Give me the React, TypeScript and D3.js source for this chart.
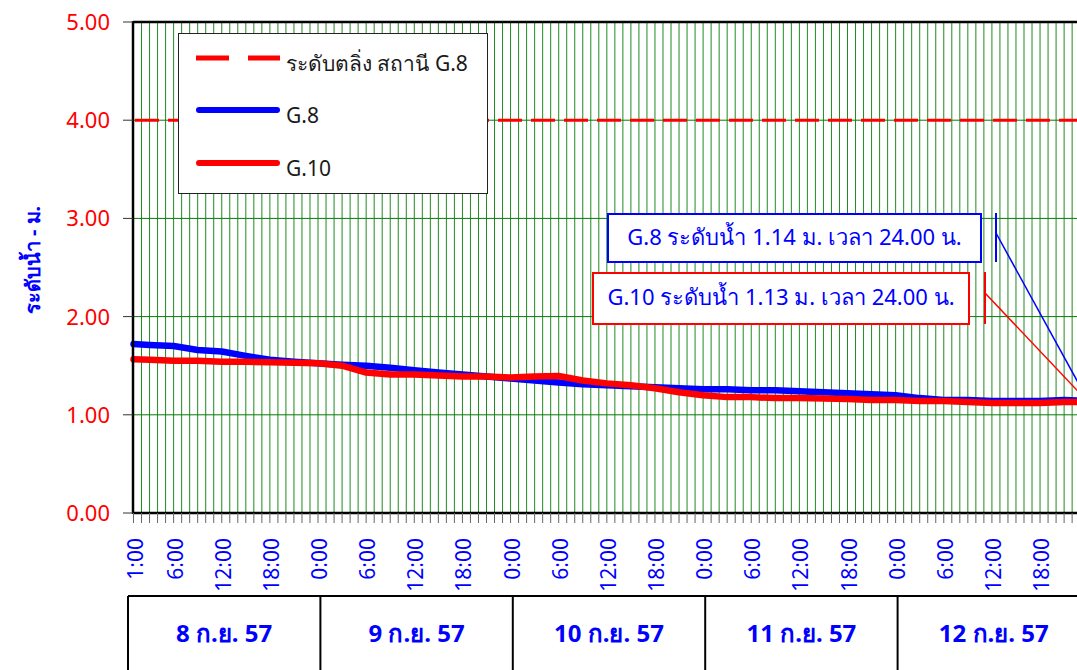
import * as d3 from "d3";

const W = 1077;
const H = 670;
const FONT = "Tahoma, 'Noto Sans', 'DejaVu Sans', sans-serif";

// hours counted from 8 ก.ย. 57 0:00
const hours = [
  1, 3, 6, 9, 12, 15, 18, 21, 24, 27, 30, 33, 36, 39, 42, 45, 48, 51, 54, 57,
  60, 63, 66, 69, 72, 75, 78, 81, 84, 87, 90, 93, 96, 99, 102, 105, 108, 111,
  114, 117, 120,
];

const g8 = [
  1.72, 1.71, 1.7, 1.66, 1.645, 1.6, 1.56, 1.54, 1.525, 1.51, 1.5, 1.48,
  1.455, 1.43, 1.41, 1.39, 1.37, 1.35, 1.33, 1.31, 1.3, 1.29, 1.28, 1.27,
  1.26, 1.26, 1.25, 1.25, 1.24, 1.23, 1.22, 1.21, 1.2, 1.17, 1.15, 1.15, 1.14,
  1.14, 1.14, 1.15, 1.14,
];

const g10 = [
  1.565, 1.56, 1.55, 1.55, 1.54, 1.54, 1.535, 1.53, 1.525, 1.5, 1.43, 1.41,
  1.41, 1.4, 1.39, 1.39, 1.38, 1.39, 1.395, 1.35, 1.32, 1.3, 1.27, 1.23, 1.2,
  1.18, 1.18, 1.17, 1.17, 1.165, 1.16, 1.15, 1.15, 1.14, 1.14, 1.13, 1.12,
  1.12, 1.12, 1.13, 1.13,
];

const bankLevel = 4.0;
const yTicks = [0, 1, 2, 3, 4, 5];
const dayLabels = ["8 ก.ย. 57", "9 ก.ย. 57", "10 ก.ย. 57", "11 ก.ย. 57", "12 ก.ย. 57"];
const legendLabels = ["ระดับตลิ่ง สถานี G.8", "G.8", "G.10"];
const calloutTexts = [
  "G.8 ระดับน้ำ 1.14 ม. เวลา 24.00 น.",
  "G.10 ระดับน้ำ 1.13 ม. เวลา 24.00 น.",
];
const yTitle = "ระดับน้ำ - ม.";

const t0 = new Date(2014, 8, 8, 0);
const toDate = (h: number) => d3.timeHour.offset(t0, h);

export default function App() {
  const x = d3
    .scaleTime()
    .domain([t0, toDate(120)])
    .range([125.48, 125.48 + 120 * 8.0225]);
  const y = d3.scaleLinear().domain([0, 5]).range([513, 22]);

  const plotL = 133;
  const plotR = x(toDate(120));
  const plotT = y(5);
  const plotB = y(0);

  const hourTicks = d3.timeHour.range(toDate(1), toDate(121));

  const line = d3
    .line<number>()
    .x((_, i) => x(toDate(hours[i])))
    .y((d) => y(d));

  const days = d3
    .scaleBand<string>()
    .domain(dayLabels)
    .range([128, 128 + 5 * 192.4]);

  // label 1:00 first, then every 6 hours; skip what falls off the page
  const fmtTick = (d: Date, i: number) =>
    x(d) + 10 < W && (i === 0 || d.getHours() % 6 === 0) ? `${d.getHours()}:00` : "";

  const endX = x(toDate(hours[hours.length - 1]));
  const g8End = y(g8[g8.length - 1]);
  const g10End = y(g10[g10.length - 1]);

  return (
    <div style={{ position: "fixed", left: 0, top: 0, width: W, height: H, overflow: "hidden", background: "#fff" }}>
      <svg width={W} height={H} style={{ display: "block" }} fontFamily={FONT}>
        {/* vertical hourly grid */}
        {hourTicks.map((d, i) => (
          <line
            key={"vg" + i}
            x1={x(d)}
            x2={x(d)}
            y1={plotT}
            y2={plotB}
            stroke="#1f8c1f"
            strokeWidth={1}
          />
        ))}
        {/* horizontal grid */}
        {yTicks.slice(1, 5).map((v) => (
          <line key={"hg" + v} x1={plotL} x2={plotR} y1={y(v)} y2={y(v)} stroke="#0a7a0a" strokeWidth={1} />
        ))}

        {/* bank level */}
        <line
          x1={plotL + 2}
          x2={plotR}
          y1={y(bankLevel)}
          y2={y(bankLevel)}
          stroke="#ff0000"
          strokeWidth={3}
          strokeDasharray="24 9"
        />

        {/* series */}
        <path d={line(g8) || ""} fill="none" stroke="#0000ff" strokeWidth={6.5} strokeLinecap="round" strokeLinejoin="round" />
        <path d={line(g10) || ""} fill="none" stroke="#ff0000" strokeWidth={6.5} strokeLinecap="round" strokeLinejoin="round" />

        {/* frame */}
        <line x1={plotL} x2={W} y1={plotT} y2={plotT} stroke="#000" strokeWidth={2.5} />
        <line x1={plotL} x2={W} y1={plotB} y2={plotB} stroke="#000" strokeWidth={2.5} />
        <line x1={plotL} x2={plotL} y1={plotT - 1} y2={plotB + 1} stroke="#000" strokeWidth={2.5} />

        {/* y ticks and labels */}
        {yTicks.map((v) => (
          <g key={"yt" + v}>
            <line x1={plotL - 10} x2={plotL} y1={y(v)} y2={y(v)} stroke="#333" strokeWidth={1} />
            <text x={110} y={y(v)} dy="0.36em" textAnchor="end" fill="#ff0000" fontSize={22}>
              {v.toFixed(2)}
            </text>
          </g>
        ))}
        <text
          transform={`translate(40,260) rotate(-90)`}
          textAnchor="middle"
          fill="#0000ff"
          fontSize={20}
          fontWeight="bold"
        >
          {yTitle}
        </text>

        {/* x ticks and labels */}
        {hourTicks.map((d, i) => (
          <g key={"xt" + i}>
            <line x1={x(d)} x2={x(d)} y1={plotB} y2={plotB + 10} stroke="#666" strokeWidth={1} />
            <text
              transform={`translate(${x(d) + 9},538) rotate(-90)`}
              textAnchor="end"
              fill="#0000ff"
              fontSize={21}
            >
              {fmtTick(d, i)}
            </text>
          </g>
        ))}

        {/* date boxes */}
        <line x1={128} x2={W} y1={596} y2={596} stroke="#000" strokeWidth={2} />
        {dayLabels.map((lab) => (
          <g key={lab}>
            <line x1={days(lab)!} x2={days(lab)!} y1={596} y2={H} stroke="#000" strokeWidth={2} />
            <text
              x={days(lab)! + days.bandwidth() / 2}
              y={642}
              textAnchor="middle"
              fill="#0000ff"
              fontSize={24}
              fontWeight="bold"
            >
              {lab}
            </text>
          </g>
        ))}

        {/* legend */}
        <rect x={178.5} y={33.5} width={309} height={160} fill="#fff" stroke="#222" strokeWidth={1} />
        <line x1={196} x2={280} y1={58} y2={58} stroke="#ff0000" strokeWidth={5} strokeDasharray="33 19" />
        <line x1={199} x2={277} y1={110} y2={110} stroke="#0000ff" strokeWidth={6} strokeLinecap="round" />
        <line x1={199} x2={277} y1={163} y2={163} stroke="#ff0000" strokeWidth={6} strokeLinecap="round" />
        {legendLabels.map((lab, i) => (
          <text key={lab} x={286} y={[71, 123, 176][i]} fill="#1a1a1a" fontSize={21}>
            {lab}
          </text>
        ))}

        {/* callouts */}
        <line x1={996} x2={endX} y1={233} y2={g8End} stroke="#0000ff" strokeWidth={1.5} />
        <line x1={996} x2={996} y1={213} y2={262} stroke="#0000ff" strokeWidth={2} />
        <rect x={608} y={214} width={373} height={48} fill="#fff" stroke="#0000ff" strokeWidth={2} />
        <text x={794.5} y={245} textAnchor="middle" fill="#0000ff" fontSize={22}>
          {calloutTexts[0]}
        </text>

        <line x1={985} x2={endX} y1={293} y2={g10End} stroke="#ff0000" strokeWidth={1.5} />
        <line x1={985} x2={985} y1={272} y2={324} stroke="#ff0000" strokeWidth={2} />
        <rect x={593} y={273} width={376} height={51} fill="#fff" stroke="#ff0000" strokeWidth={2} />
        <text x={781} y={305} textAnchor="middle" fill="#0000ff" fontSize={22}>
          {calloutTexts[1]}
        </text>
      </svg>
    </div>
  );
}
